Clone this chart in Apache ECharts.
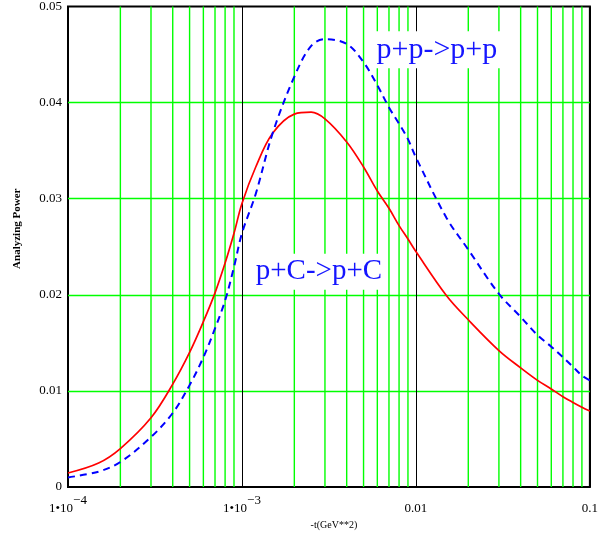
<!DOCTYPE html>
<html>
<head>
<meta charset="utf-8">
<script src="https://cdn.jsdelivr.net/npm/echarts@6/dist/echarts.min.js"></script>
<style>
html,body{margin:0;padding:0;background:#fff;}
#chart{width:601px;height:538px;}
</style>
</head>
<body>
<div id="chart"></div>
<script>
// ---- data ----
var tValues = [1e-4, 1.5e-4, 2e-4, 3e-4, 4e-4, 5e-4, 6e-4, 7e-4, 8e-4, 9e-4,
  1e-3, 1.2e-3, 1.5e-3, 2e-3, 2.5e-3, 3e-3, 4e-3, 5e-3, 6e-3, 7e-3, 8e-3, 9e-3,
  0.01, 0.015, 0.02, 0.03, 0.04, 0.05, 0.06, 0.07, 0.08, 0.09, 0.1];
var pcValues = [0.00146, 0.0025, 0.0040, 0.0072, 0.0107, 0.0140, 0.0172, 0.0202, 0.0233, 0.0264,
  0.0295, 0.0333, 0.0368, 0.0388, 0.0390, 0.0383, 0.0359, 0.0333, 0.0308, 0.0290, 0.0272, 0.0258,
  0.0245, 0.0199, 0.0174, 0.0142, 0.0124, 0.0111, 0.0102, 0.0094, 0.0088, 0.0083, 0.0079];
var ppValues = [0.0010, 0.0016, 0.0026, 0.0052, 0.0077, 0.0106, 0.0135, 0.0165, 0.0194, 0.0229,
  0.0264, 0.0305, 0.0368, 0.0427, 0.0459, 0.0466, 0.0461, 0.0442, 0.0418, 0.0395, 0.0378, 0.0362,
  0.0343, 0.0280, 0.0247, 0.0201, 0.0177, 0.0158, 0.0146, 0.0135, 0.0125, 0.0116, 0.0111];
var xTickValues = [1e-4, 1e-3, 0.01, 0.1];
var xTickMain = ['1\u202210', '1\u202210', '0.01', '0.1'];
var xTickSup = ['\u22124', '\u22123', '', ''];
var xMinorGrid = [2e-4, 3e-4, 4e-4, 5e-4, 6e-4, 7e-4, 8e-4, 9e-4,
  2e-3, 3e-3, 4e-3, 5e-3, 6e-3, 7e-3, 8e-3, 9e-3,
  0.02, 0.03, 0.04, 0.05, 0.06, 0.07, 0.08, 0.09];
var yTickValues = [0, 0.01, 0.02, 0.03, 0.04, 0.05];
var yTickLabels = ['0', '0.01', '0.02', '0.03', '0.04', '0.05'];
var yRange = [0, 0.05];
var ppLabel = {text: 'p+p->p+p', t: 0.0132, v: 0.0455};
var pcLabel = {text: 'p+C->p+C', t: 0.00277, v: 0.0224};

var SERIF = "'Liberation Serif','Times New Roman',serif";
function zip(xs, ys){ return xs.map(function(x,i){return [x, ys[i]];}); }

var gridSeries = xMinorGrid.map(function(x){
  return {
    type: 'line', data: [[x, yRange[0]], [x, yRange[1]]], z: 1, silent: true,
    showSymbol: false, lineStyle: {color: '#00ff00', width: 1.4}, itemStyle: {color: '#00ff00'}
  };
});

var chart = echarts.init(document.getElementById('chart'), null, {renderer:'canvas'});
var option = {
  animation: false,
  backgroundColor: '#fff',
  grid: {left: 68, right: 11, top: 6, bottom: 51, show: true, borderColor: '#000', borderWidth: 2, backgroundColor: 'transparent'},
  xAxis: {
    type: 'log', logBase: 10, min: 1e-4, max: 0.1,
    name: '-t(GeV**2)', nameLocation: 'middle', nameGap: 21,
    nameTextStyle: {fontFamily: SERIF, fontSize: 10, color: '#000', padding: [0,0,0,10]},
    axisLine: {show: false}, axisTick: {show: false},
    splitLine: {show: true, showMinLine: false, showMaxLine: false, lineStyle: {color: '#000', width: 1}},
    axisLabel: {
      margin: 7,
      formatter: function(v){
        for (var i=0;i<xTickValues.length;i++){
          if (Math.abs(Math.log10(v) - Math.log10(xTickValues[i])) < 1e-6){
            return '{n|' + xTickMain[i] + '}' + (xTickSup[i] ? '{s|' + xTickSup[i] + '}' : '');
          }
        }
        return '';
      },
      rich: {
        n: {fontFamily: SERIF, fontSize: 13, color: '#000', padding: [8,0,0,0]},
        s: {fontFamily: SERIF, fontSize: 13, color: '#000', verticalAlign: 'top'}
      }
    }
  },
  yAxis: {
    type: 'value', min: yRange[0], max: yRange[1], interval: 0.01,
    name: 'Analyzing Power', nameLocation: 'middle', nameGap: 45, nameRotate: 90,
    nameTextStyle: {fontFamily: SERIF, fontSize: 11, fontWeight: 'bold', color: '#000', padding: [0,0,0,36]},
    axisLine: {show: false}, axisTick: {show: false},
    splitLine: {show: true, showMinLine: false, showMaxLine: false, lineStyle: {color: '#00ff00', width: 1.4}},
    axisLabel: {
      margin: 6, fontFamily: SERIF, fontSize: 13, color: '#000',
      formatter: function(v){
        for (var i=0;i<yTickValues.length;i++){ if (Math.abs(v - yTickValues[i]) < 1e-9) return yTickLabels[i]; }
        return '';
      }
    }
  },
  series: gridSeries.concat([
    {
      type: 'line', name: 'p+C->p+C', data: zip(tValues, pcValues), z: 3,
      showSymbol: false, smooth: 0.35,
      lineStyle: {color: '#ff0000', width: 1.7},
      itemStyle: {color: '#ff0000'},
      markPoint: {
        silent: true, symbol: 'rect', symbolSize: 0.01, animation: false,
        itemStyle: {color: 'transparent'},
        label: {show: true, position: 'inside', formatter: pcLabel.text, fontFamily: SERIF, fontSize: 29,
          color: '#1515ff', backgroundColor: '#fff', padding: [4,3,3,3]},
        data: [{coord: [pcLabel.t, pcLabel.v]}]
      }
    },
    {
      type: 'line', name: 'p+p->p+p', data: zip(tValues, ppValues), z: 4,
      showSymbol: false, smooth: 0.35,
      lineStyle: {color: '#0000ff', width: 2, type: [7,5]},
      itemStyle: {color: '#0000ff'},
      markPoint: {
        silent: true, symbol: 'rect', symbolSize: 0.01, animation: false,
        itemStyle: {color: 'transparent'},
        label: {show: true, position: 'inside', formatter: ppLabel.text, fontFamily: SERIF, fontSize: 30,
          color: '#1515ff', backgroundColor: '#fff', padding: [4,3,3,3]},
        data: [{coord: [ppLabel.t, ppLabel.v]}]
      }
    }
  ])
};
chart.setOption(option);
</script>
</body>
</html>
